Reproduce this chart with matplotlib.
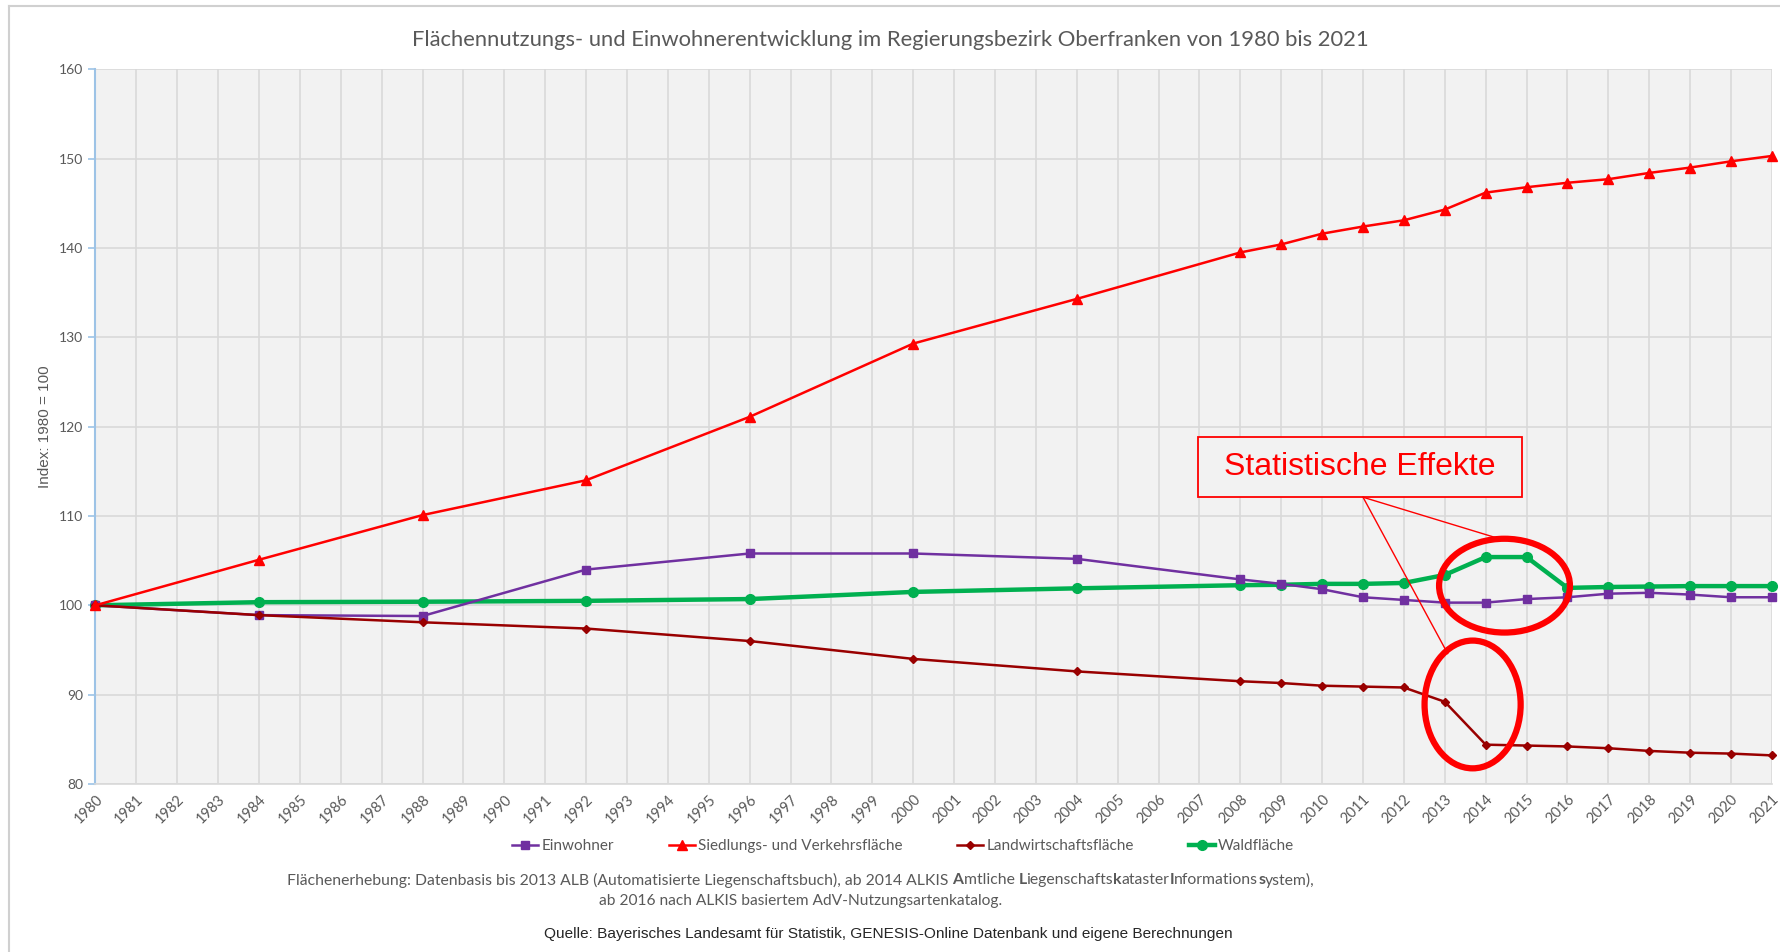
import matplotlib
matplotlib.use("Agg")
import matplotlib.pyplot as plt
from matplotlib.patches import Ellipse, Rectangle
from matplotlib.lines import Line2D

# data (Index 1980 = 100)
years_early = [1980, 1984, 1988, 1992, 1996, 2000, 2004]
years_late = list(range(2008, 2022))
years = years_early + years_late

einwohner = [100.0, 98.9, 98.8, 104.0, 105.8, 105.8, 105.2,
             102.9, 102.4, 101.8, 100.9, 100.6, 100.3, 100.3, 100.7, 100.9,
             101.3, 101.4, 101.2, 100.9, 100.9]
siedlung = [100.0, 105.1, 110.1, 114.0, 121.1, 129.3, 134.3,
            139.5, 140.4, 141.6, 142.4, 143.1, 144.3, 146.2, 146.8, 147.3,
            147.7, 148.4, 149.0, 149.7, 150.3]
landwirtschaft = [100.0, 98.9, 98.1, 97.4, 96.0, 94.0, 92.6,
                  91.5, 91.3, 91.0, 90.9, 90.8, 89.2, 84.4, 84.3, 84.2,
                  84.0, 83.7, 83.5, 83.4, 83.2]
wald = [100.0, 100.35, 100.4, 100.5, 100.7, 101.5, 101.9,
        102.25, 102.3, 102.4, 102.4, 102.5, 103.4, 105.4, 105.4, 101.95,
        102.05, 102.1, 102.15, 102.15, 102.15]

series_names = ["Einwohner", "Siedlungs- und Verkehrsfläche",
                "Landwirtschaftsfläche", "Waldfläche"]

title = ("Flächennutzungs- und Einwohnerentwicklung im Regierungsbezirk "
         "Oberfranken von 1980 bis 2021")
ylabel = "Index: 1980 = 100"
yticks = [80, 90, 100, 110, 120, 130, 140, 150, 160]
xticks = list(range(1980, 2022))

grey = "#595959"
calibri = "Lato"
arial = "Liberation Sans"

fig = plt.figure(figsize=(17.81, 9.52), dpi=100)
ax = fig.add_axes([0.0536, 0.1765, 0.9413, 0.7507])
ax.set_facecolor("#f2f2f2")

ax.plot(years, einwohner, color="#7030a0", lw=1.8, marker="s", ms=6,
        label=series_names[0], clip_on=False, zorder=4)
ax.plot(years, siedlung, color="#ff0000", lw=1.8, marker="^", ms=7,
        label=series_names[1], clip_on=False, zorder=5)
ax.plot(years, landwirtschaft, color="#990000", lw=1.8, marker="D", ms=4,
        label=series_names[2], clip_on=False, zorder=4)
ax.plot(years, wald, color="#00b050", lw=3.2, marker="o", ms=7,
        label=series_names[3], clip_on=False, zorder=3)

ax.set_xlim(1980, 2021)
ax.set_ylim(80, 160)
ax.set_xticks(xticks)
ax.set_xticklabels([str(y) for y in xticks], rotation=45, ha="right",
                   rotation_mode="anchor", fontsize=10.5, color=grey,
                   family=calibri)
ax.set_yticks(yticks)
ax.set_yticklabels([str(y) for y in yticks], fontsize=10, color=grey,
                   family=calibri)
ax.tick_params(axis="x", length=0, pad=6)
ax.tick_params(axis="y", length=5, color="#9dc3e6", width=1.2, pad=4)
ax.grid(True, color="#d9d9d9", lw=1.2)
ax.set_axisbelow(True)
for s in ["top", "right"]:
    ax.spines[s].set_visible(False)
ax.spines["left"].set_color("#9dc3e6")
ax.spines["left"].set_linewidth(1.5)
ax.spines["bottom"].set_color("#d9d9d9")
ax.spines["bottom"].set_linewidth(1.2)

ax.set_ylabel(ylabel, fontsize=11, color=grey, family=arial, labelpad=5)

# annotation: box, connectors, ellipses
ax.add_patch(Rectangle((2006.96, 112.1), 7.92, 6.7, fill=True,
                       facecolor="#f2f2f2", edgecolor="#ff0000", lw=1.3,
                       zorder=6))
ax.text(2010.92, 115.45, "Statistische Effekte", color="#ff0000",
        fontsize=23, family=arial, ha="center", va="center", zorder=7)
ax.plot([2011.0, 2014.3], [112.1, 107.5], color="#ff0000", lw=1.0, zorder=6)
ax.plot([2011.0, 2013.07], [112.1, 94.6], color="#ff0000", lw=1.0, zorder=6)
ax.add_patch(Ellipse((2014.46, 102.2), 3.2, 10.5, fill=False,
                     edgecolor="#ff0000", lw=4.5, zorder=6))
ax.add_patch(Ellipse((2013.68, 88.9), 2.35, 14.3, fill=False,
                     edgecolor="#ff0000", lw=4.5, zorder=6))

fig.text(0.5, 0.958, title, ha="center", va="center", fontsize=15.8,
         color=grey, family=calibri)

fig.legend(loc="center", bbox_to_anchor=(0.507, 0.111), ncol=4,
           frameon=False, handlelength=1.7, handletextpad=0.2,
           columnspacing=3.6, labelcolor=grey,
           prop={"family": calibri, "size": 11})

# footnote with bold letters
parts = [("Flächenerhebung: Datenbasis bis 2013 ALB (Automatisierte "
          "Liegenschaftsbuch), ab 2014 ALKIS ", "normal"),
         ("A", "bold"), ("mtliche ", "normal"), ("L", "bold"),
         ("iegenschafts", "normal"), ("k", "bold"), ("ataster", "normal"),
         ("I", "bold"), ("nformations", "normal"), ("s", "bold"),
         ("ystem),", "normal")]
fig.canvas.draw()
renderer = fig.canvas.get_renderer()
texts = []
for s, w in parts:
    t = fig.text(0, 0.0755, s, fontsize=11.3, color=grey, family=calibri,
                 weight=w, va="center")
    texts.append(t)
widths = [t.get_window_extent(renderer).width for t in texts]
total = sum(widths)
x0 = (801 - total / 2) / fig.bbox.width
for t, w in zip(texts, widths):
    t.set_x(x0)
    x0 += w / fig.bbox.width

fig.text(0.4497, 0.0535, "ab 2016 nach ALKIS basiertem AdV-Nutzungsartenkatalog.",
         ha="center", va="center", fontsize=11.2, color=grey, family=calibri)
fig.text(0.4986, 0.019, "Quelle: Bayerisches Landesamt für Statistik, "
         "GENESIS-Online Datenbank und eigene Berechnungen",
         ha="center", va="center", fontsize=11.1, color="#262626", family=arial)

# outer chart border
fig.add_artist(Line2D([9 / 1781, 9 / 1781], [0, 1 - 6 / 952],
                      color="#d0d0d0", lw=1.5))
fig.add_artist(Line2D([9 / 1781, 1], [1 - 6 / 952, 1 - 6 / 952],
                      color="#d0d0d0", lw=1.5))

fig.savefig("out.png", dpi=100)
